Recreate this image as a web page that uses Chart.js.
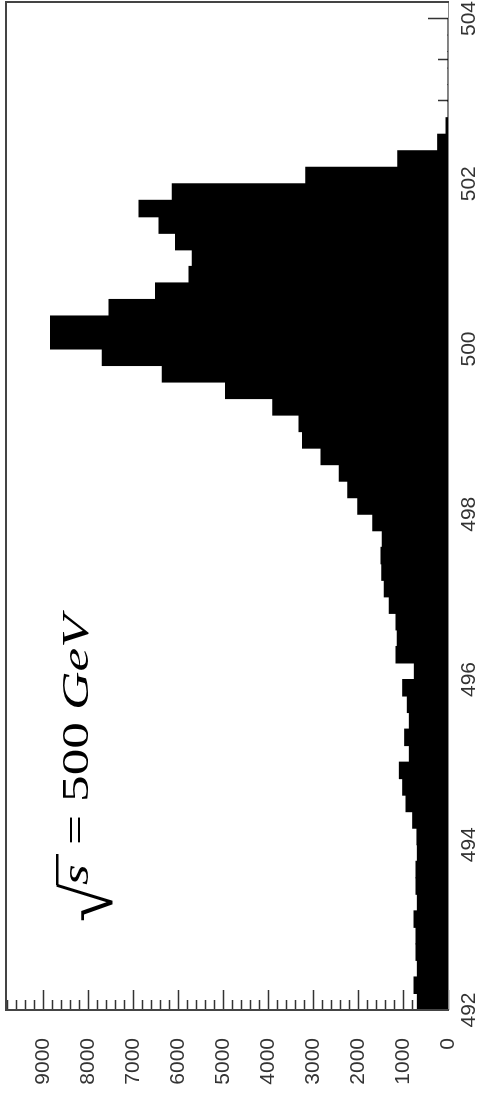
<!DOCTYPE html>
<html>
<head>
<meta charset="utf-8">
<script src="https://cdn.jsdelivr.net/npm/chart.js@4.4.1/dist/chart.umd.min.js"></script>
<style>
    html, body { margin: 0; padding: 0; background: #fff; overflow: hidden; }
    /* the reference is the plot turned a quarter turn counter-clockwise */
    #wrap {
        position: absolute; left: 0; top: 1106px;
        width: 1106px; height: 482px;
        transform-origin: 0 0; transform: rotate(-90deg);
    }
</style>
</head>
<body>
<div id="wrap"><canvas id="chart" width="1106" height="482"></canvas></div>
<script>
// histogram: 0.2 GeV bins starting at 492 GeV
const binStart = 492;
const binWidth = 0.2;
const counts = [
    681, 755, 681, 711, 711, 755, 681, 711, 711, 681,
    690, 785, 933, 1007, 1081, 859, 963, 859, 904, 1007,
    748, 1156, 1126, 1156, 1304, 1415, 1474, 1489, 1459, 1674,
    2007, 2230, 2415, 2822, 3230, 3311, 3896, 4941, 6348, 7681,
    8830, 8830, 7533, 6496, 5756, 5681, 6052, 6422, 6867, 6126,
    3163, 1119, 230, 44, 0, 0, 0, 0, 0, 0
];
const xTickLabels = [492, 494, 496, 498, 500, 502, 504];
const yTickLabels = [0, 1000, 2000, 3000, 4000, 5000, 6000, 7000, 8000, 9000];
const xMin = 492, xMax = 504.2, xMinor = 0.5;
const yMin = 0, yMax = 9820, yMinor = 200;

const labelFont = { family: "'Liberation Sans', Arial, sans-serif", size: 21 };
const inkColor = '#333';

// inward tick marks, drawn under the bars
const innerTicks = {
    id: 'innerTicks',
    beforeDatasetsDraw(chart) {
        const { ctx, chartArea } = chart;
        const xs = chart.scales.x, ys = chart.scales.y;
        ctx.save();
        ctx.strokeStyle = inkColor;
        ctx.lineWidth = 1.5;
        ctx.beginPath();
        for (let v = yMin; v <= yMax + 1e-6; v += yMinor) {
            const p = Math.round(ys.getPixelForValue(v)) + 0.5;
            const len = yTickLabels.includes(v) ? 20 : 10;
            ctx.moveTo(chartArea.left, p);
            ctx.lineTo(chartArea.left + len, p);
        }
        for (let v = xMin; v <= xMax + 1e-6; v += xMinor) {
            const p = Math.round(xs.getPixelForValue(v)) + 0.5;
            const len = xTickLabels.includes(v) ? 20 : 10;
            ctx.moveTo(p, chartArea.bottom);
            ctx.lineTo(p, chartArea.bottom - len);
        }
        ctx.stroke();
        ctx.restore();
    },
    afterDatasetsDraw(chart) {
        const { ctx, chartArea: a } = chart;
        ctx.save();
        // bottom axis: thin grey
        ctx.strokeStyle = '#888';
        ctx.lineWidth = 1;
        ctx.beginPath();
        ctx.moveTo(a.left, a.bottom + 0.5);
        ctx.lineTo(a.right, a.bottom + 0.5);
        ctx.stroke();
        // left, top and right: darker, heavier
        ctx.strokeStyle = '#444';
        ctx.lineWidth = 2;
        ctx.beginPath();
        ctx.moveTo(a.left, a.bottom + 1);
        ctx.lineTo(a.left, a.top);
        ctx.lineTo(a.right, a.top);
        ctx.lineTo(a.right, a.bottom + 1);
        ctx.stroke();
        ctx.restore();
    }
};

// "√s = 500 GeV" annotation
const energyLabel = {
    id: 'energyLabel',
    afterDraw(chart) {
        const { ctx } = chart;
        const base = 88;
        const sx = 1.44;
        const serif = "'Liberation Serif', 'Times New Roman', serif";
        const pieces = [
            { t: 's', x: 221, italic: true },
            { t: '=', x: 261, italic: false },
            { t: '500', x: 304, italic: false },
            { t: 'GeV', x: 396, italic: true }
        ];
        ctx.save();
        ctx.fillStyle = '#000';
        ctx.textBaseline = 'alphabetic';
        pieces.forEach(p => {
            ctx.save();
            ctx.translate(p.x, base);
            ctx.scale(sx, 1);
            ctx.font = (p.italic ? 'italic ' : '') + '37px ' + serif;
            ctx.fillText(p.t, 0, 0);
            ctx.restore();
        });
        // radical sign with its bar over the s
        ctx.font = '70px ' + serif;
        const rx = 184, rb = 112;
        const m = ctx.measureText('\u221A');
        ctx.fillText('\u221A', rx, rb);
        const top = rb - m.actualBoundingBoxAscent;
        ctx.strokeStyle = '#000';
        ctx.lineWidth = 2.5;
        ctx.beginPath();
        ctx.moveTo(rx + m.actualBoundingBoxRight - 2, top + 1.25);
        ctx.lineTo(252, top + 1.25);
        ctx.stroke();
        ctx.restore();
    }
};

const ctx = document.getElementById('chart').getContext('2d');
new Chart(ctx, {
    type: 'bar',
    data: {
        datasets: [{
            data: counts.map((c, i) => ({ x: binStart + binWidth * (i + 0.5), y: c })),
            backgroundColor: '#000',
            borderWidth: 0,
            barPercentage: 1,
            categoryPercentage: 1,
            inflateAmount: 0.5
        }]
    },
    options: {
        responsive: false,
        animation: false,
        layout: { padding: { top: 6, right: 2, left: 0, bottom: 0 } },
        plugins: {
            legend: { display: false },
            tooltip: { enabled: false }
        },
        scales: {
            x: {
                type: 'linear',
                min: xMin,
                max: xMax,
                offset: false,
                grid: { display: false, drawTicks: false },
                border: { display: false },
                afterBuildTicks: s => { s.ticks = xTickLabels.map(v => ({ value: v })); },
                ticks: {
                    maxRotation: 0,
                    autoSkip: false,
                    padding: 9,
                    font: labelFont,
                    color: inkColor,
                    callback: v => String(v)
                },
                afterFit: s => {
                    s.height = 34;
                    s.paddingLeft = 0;
                    s.paddingRight = 0;
                }
            },
            y: {
                min: yMin,
                max: yMax,
                grid: { display: false, drawTicks: false },
                border: { display: false },
                afterBuildTicks: s => { s.ticks = yTickLabels.map(v => ({ value: v })); },
                ticks: {
                    autoSkip: false,
                    padding: 28,
                    font: labelFont,
                    color: inkColor,
                    callback: v => String(v)
                },
                afterFit: s => {
                    s.width = 96;
                    s.paddingTop = 0;
                    s.paddingBottom = 0;
                }
            }
        }
    },
    plugins: [innerTicks, energyLabel]
});
</script>
</body>
</html>
